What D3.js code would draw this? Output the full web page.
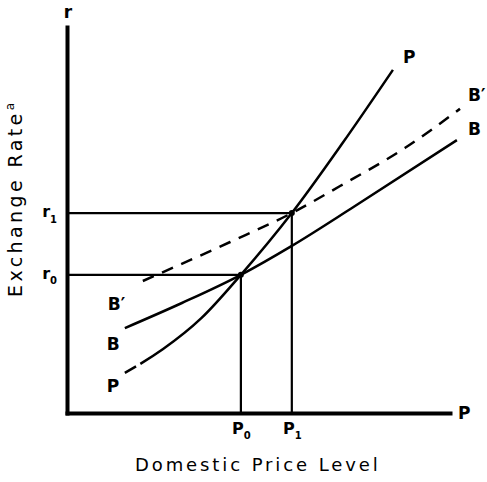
<!DOCTYPE html>
<html><head><meta charset="utf-8">
<script src="https://cdn.jsdelivr.net/npm/d3@7"></script>
<style>body{margin:0;background:#fff}</style>
</head><body><svg id="c" width="487" height="482"></svg>
<script>
// ---- data ----
const priceTicks = [4.54, 5.87];            // P0, P1
const priceTickLabels = [["P", "0"], ["P", "1"]];
const rateTicks = [3.58, 5.18];             // r0, r1
const rateTickLabels = [["r", "0"], ["r", "1"]];
const ppX = [1.51, 2.5, 3.5, 4.54, 5.87, 7.2, 8.51];
const ppY = [1.04, 1.65, 2.45, 3.58, 5.18, 7.0, 8.89];
const bbX = [1.51, 3.0, 4.54, 5.87, 7.5, 10.18];
const bbY = [2.20, 2.85, 3.58, 4.33, 5.35, 7.07];
const b2X = [1.98, 4.26, 5.87, 7.13, 8.83, 10.26];
const b2Y = [3.42, 4.43, 5.18, 5.88, 6.87, 7.88];
const curveNames = ["P", "B", "B\u2032"];
const xTitle = "Domestic Price Level";
const yTitle = "Exchange Rate";
const yTitleNote = "a";
const yAxisName = "r";
const xAxisName = "P";

// ---- drawing ----
const svg = d3.select("#c");
const font = "'DejaVu Sans', sans-serif";
const x = d3.scaleLinear([0, 10], [67, 450]);
const y = d3.scaleLinear([0, 10], [413, 27]);

// guide lines
const guides = svg.append("g").attr("stroke", "#000").attr("stroke-width", 2.2);
priceTicks.forEach((p, i) => {
  guides.append("line").attr("x1", x(0)).attr("x2", x(p))
    .attr("y1", y(rateTicks[i])).attr("y2", y(rateTicks[i]));
  guides.append("line").attr("x1", x(p)).attr("x2", x(p))
    .attr("y1", y(0)).attr("y2", y(rateTicks[i]));
});

const line = d3.line().x(d => x(d[0])).y(d => y(d[1])).curve(d3.curveMonotoneX);
const zip = (a, b) => a.map((v, i) => [v, b[i]]);

svg.append("path").datum(zip(ppX, ppY)).attr("d", line)
  .attr("fill", "none").attr("stroke", "#000").attr("stroke-width", 2.5)
  .attr("stroke-dasharray", "13,5,3000");
svg.append("path").datum(zip(bbX, bbY)).attr("d", line)
  .attr("fill", "none").attr("stroke", "#000").attr("stroke-width", 2.5);
svg.append("path").datum(zip(b2X, b2Y)).attr("d", line)
  .attr("fill", "none").attr("stroke", "#000").attr("stroke-width", 2.5)
  .attr("stroke-dasharray", "12,9");

// intersection dots
priceTicks.forEach((p, i) => {
  svg.append("circle").attr("cx", x(p)).attr("cy", y(rateTicks[i])).attr("r", 3).attr("fill", "#000");
});

// axes
const gx = svg.append("g").attr("transform", `translate(0,${y(0)})`)
  .call(d3.axisBottom(x).tickValues(priceTicks).tickSize(0).tickSizeOuter(0).tickPadding(10));
const gy = svg.append("g").attr("transform", `translate(${x(0)},0)`)
  .call(d3.axisLeft(y).tickValues(rateTicks).tickSize(0).tickSizeOuter(0).tickPadding(10));
[gx, gy].forEach(g => {
  g.select(".domain").attr("stroke", "#000").attr("stroke-width", 4).attr("stroke-linecap", "square");
  g.selectAll("text").attr("font-family", font).attr("font-weight", "bold").attr("fill", "#000");
});
gx.selectAll(".tick text").each(function (d, i) {
  const t = d3.select(this).text("").attr("font-size", 16);
  t.append("tspan").text(priceTickLabels[i][0]);
  t.append("tspan").attr("font-size", 10).attr("dy", 5).text(priceTickLabels[i][1]);
});
gy.selectAll(".tick text").each(function (d, i) {
  const t = d3.select(this).text("").attr("font-size", 16).attr("dy", "0.2em");
  t.append("tspan").text(rateTickLabels[i][0]);
  t.append("tspan").attr("font-size", 10).attr("dy", 6).text(rateTickLabels[i][1]);
});

// axis names
const lab = (tx, ty, s, anchor) => svg.append("text").attr("x", tx).attr("y", ty)
  .attr("font-family", font).attr("font-weight", "bold").attr("font-size", 17)
  .attr("text-anchor", anchor || "start").text(s);
lab(x(0) + 1, 18, yAxisName, "middle");
lab(x(10) + 8, y(0) + 6, xAxisName);

// curve labels
const ppEnd = [x(ppX[ppX.length - 1]), y(ppY[ppY.length - 1])];
const bbEnd = [x(bbX[bbX.length - 1]), y(bbY[bbY.length - 1])];
const b2End = [x(b2X[b2X.length - 1]), y(b2Y[b2Y.length - 1])];
const ppStart = [x(ppX[0]), y(ppY[0])];
const bbStart = [x(bbX[0]), y(bbY[0])];
const b2Start = [x(b2X[0]), y(b2Y[0])];
lab(ppEnd[0] + 10, ppEnd[1] - 7, curveNames[0]);
lab(b2End[0] + 8, b2End[1] - 8, curveNames[2]);
lab(bbEnd[0] + 11, bbEnd[1] - 5, curveNames[1]);
lab(ppStart[0] - 18, ppStart[1] + 19, curveNames[0]);
lab(bbStart[0] - 18, bbStart[1] + 22, curveNames[1]);
lab(b2Start[0] - 35, b2Start[1] + 29, curveNames[2]);

// titles
svg.append("text").attr("x", 135).attr("y", 471)
  .attr("font-family", font).attr("font-size", 18).attr("letter-spacing", 2.9)
  .attr("fill", "#000").text(xTitle);
const yt = svg.append("text").attr("transform", "translate(22,297) rotate(-90)")
  .attr("font-family", font).attr("font-size", 19).attr("letter-spacing", 3.4)
  .attr("fill", "#000");
yt.append("tspan").text(yTitle);
yt.append("tspan").attr("font-size", 12).attr("dy", -8).attr("letter-spacing", 0).text(yTitleNote);
</script></body></html>
